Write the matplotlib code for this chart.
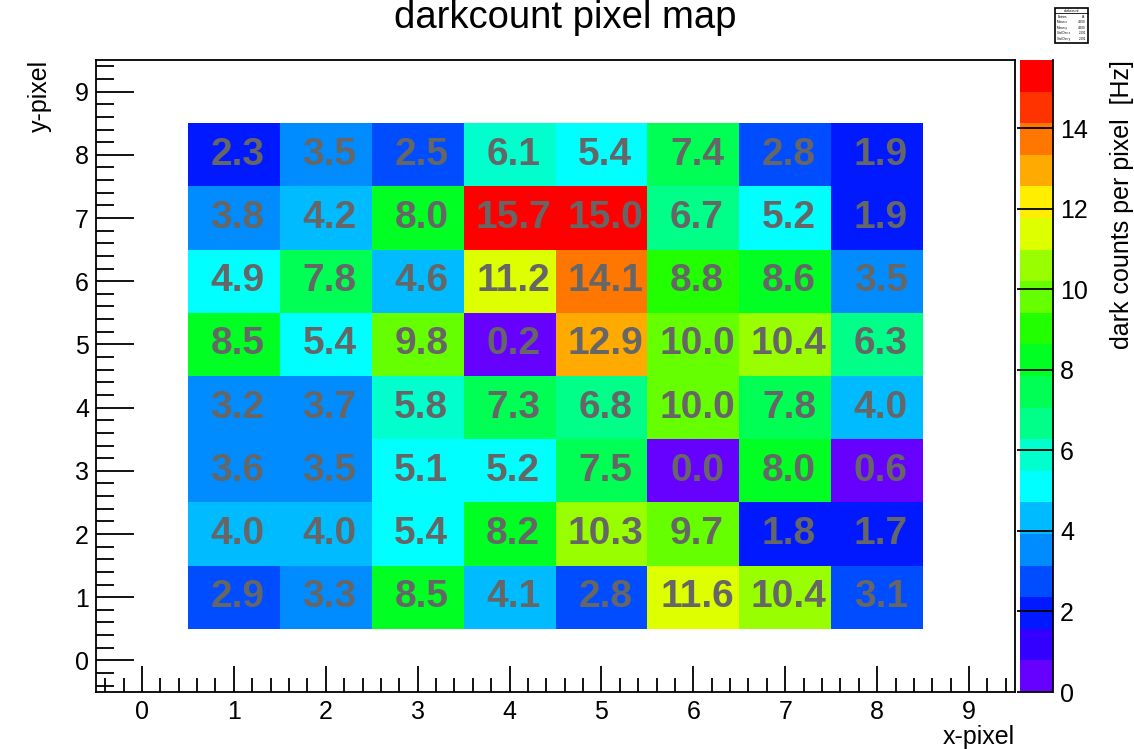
import numpy as np
import matplotlib
matplotlib.use("Agg")
from matplotlib import pyplot as plt
from matplotlib.colors import ListedColormap, BoundaryNorm
from matplotlib.ticker import MultipleLocator

plt.rcParams["font.family"] = ["Liberation Sans", "DejaVu Sans"]

x_pixels = [1, 2, 3, 4, 5, 6, 7, 8]
y_pixels = [1, 2, 3, 4, 5, 6, 7, 8]

# dark counts in Hz, one row per y-pixel (y = 1 first)
rates = [
    [2.9, 3.3, 8.5, 4.1, 2.8, 11.6, 10.4, 3.1],
    [4.0, 4.0, 5.4, 8.2, 10.3, 9.7, 1.8, 1.7],
    [3.6, 3.5, 5.1, 5.2, 7.5, 0.0, 8.0, 0.6],
    [3.2, 3.7, 5.8, 7.3, 6.8, 10.0, 7.8, 4.0],
    [8.5, 5.4, 9.8, 0.2, 12.9, 10.0, 10.4, 6.3],
    [4.9, 7.8, 4.6, 11.2, 14.1, 8.8, 8.6, 3.5],
    [3.8, 4.2, 8.0, 15.7, 15.0, 6.7, 5.2, 1.9],
    [2.3, 3.5, 2.5, 6.1, 5.4, 7.4, 2.8, 1.9],
]

stats_lines = [("Entries", "64"), ("Mean x", "4.500"), ("Mean y", "4.500"),
               ("Std Dev x", "2.291"), ("Std Dev y", "2.291")]

# 20-step rainbow palette
palette = ["#6600ff", "#3300ff", "#0019ff", "#004cff", "#008cff",
           "#00bbff", "#00ffff", "#00ffcc", "#00ff88", "#00ff55",
           "#00ff22", "#22ff00", "#66ff00", "#99ff00", "#ddff00",
           "#ffee00", "#ffaa00", "#ff7700", "#ff3300", "#ff0000"]

z = np.array(rates)
zmax = z.max()
levels = np.linspace(0, zmax, len(palette) + 1)
cmap = ListedColormap(palette)
norm = BoundaryNorm(levels, cmap.N)

fig = plt.figure(figsize=(11.34, 7.49), dpi=100)
ax = fig.add_axes([96 / 1134, 1 - 692 / 749, (1015 - 96) / 1134, (692 - 60) / 749])
cax = fig.add_axes([1020 / 1134, 1 - 692 / 749, (1053 - 1020) / 1134, (692 - 60) / 749])

xe = np.arange(len(x_pixels) + 1) + 0.5
ye = np.arange(len(y_pixels) + 1) + 0.5
mesh = ax.pcolormesh(xe, ye, z, cmap=cmap, norm=norm)

for j, yv in enumerate(y_pixels):
    for i, xv in enumerate(x_pixels):
        ax.text(xv + 0.04, yv, "%.1f" % rates[j][i], ha="center", va="center",
                fontsize=28, fontweight="bold", color="#666666")

ax.set_xlim(-0.5, 9.5)
ax.set_ylim(-0.5, 9.5)
ax.xaxis.set_major_locator(MultipleLocator(1))
ax.xaxis.set_minor_locator(MultipleLocator(0.2))
ax.yaxis.set_major_locator(MultipleLocator(1))
ax.yaxis.set_minor_locator(MultipleLocator(0.2))
ax.tick_params(axis="x", which="major", direction="in", length=19, width=1.3, labelsize=18, pad=6)
ax.tick_params(axis="x", which="minor", direction="in", length=10, width=1.3)
ax.tick_params(axis="y", which="major", direction="in", length=27, width=1.3, labelsize=18, pad=5)
ax.tick_params(axis="y", which="minor", direction="in", length=13, width=1.3)
for s in ax.spines.values():
    s.set_linewidth(1.3)

fig.text(565 / 1134, 1 - 28 / 749, "darkcount pixel map", ha="center", va="baseline", fontsize=27.5)
fig.text(1015 / 1134, 1 - 737 / 749, "x-pixel", ha="right", va="center", fontsize=18)
fig.text(40 / 1134, 1 - 60 / 749, "y-pixel", ha="center", va="top", rotation=90, fontsize=18)

cb = fig.colorbar(mesh, cax=cax, ticks=np.arange(0, 15, 2))
cb.outline.set_visible(False)
cax.axvline(1.0, color="black", lw=1.3, clip_on=False)
cax.set_ylim(0, zmax)
cax.tick_params(axis="y", which="major", direction="in", length=26, width=1.3,
                labelsize=18, pad=5, right=True, left=False)
cax.minorticks_off()
fig.text(1122 / 1134, 1 - 60 / 749, "dark counts per pixel  [Hz]", ha="center", va="top",
         rotation=90, fontsize=18)

# small statistics box
sx0, sx1 = 1055 / 1134, 1088 / 1134
sy0, sy1 = 1 - 43 / 749, 1 - 8 / 749
fig.patches.append(plt.Rectangle((sx0, sy0), sx1 - sx0, sy1 - sy0, transform=fig.transFigure,
                                 facecolor="white", edgecolor="black", lw=1.2))
fig.add_artist(plt.Line2D([sx0, sx1], [sy1 - 0.007, sy1 - 0.007], transform=fig.transFigure,
                          color="black", lw=0.6))
fig.text((sx0 + sx1) / 2, sy1 - 0.0035, "darkcount", ha="center", va="center", fontsize=2.5)
for k, (name, val) in enumerate(stats_lines):
    yy = sy1 - 0.0115 - k * 0.0075
    fig.text(sx0 + 0.002, yy, name, ha="left", va="center", fontsize=2.2)
    fig.text(sx1 - 0.002, yy, val, ha="right", va="center", fontsize=2.2)

fig.savefig("out.png", dpi=100)
